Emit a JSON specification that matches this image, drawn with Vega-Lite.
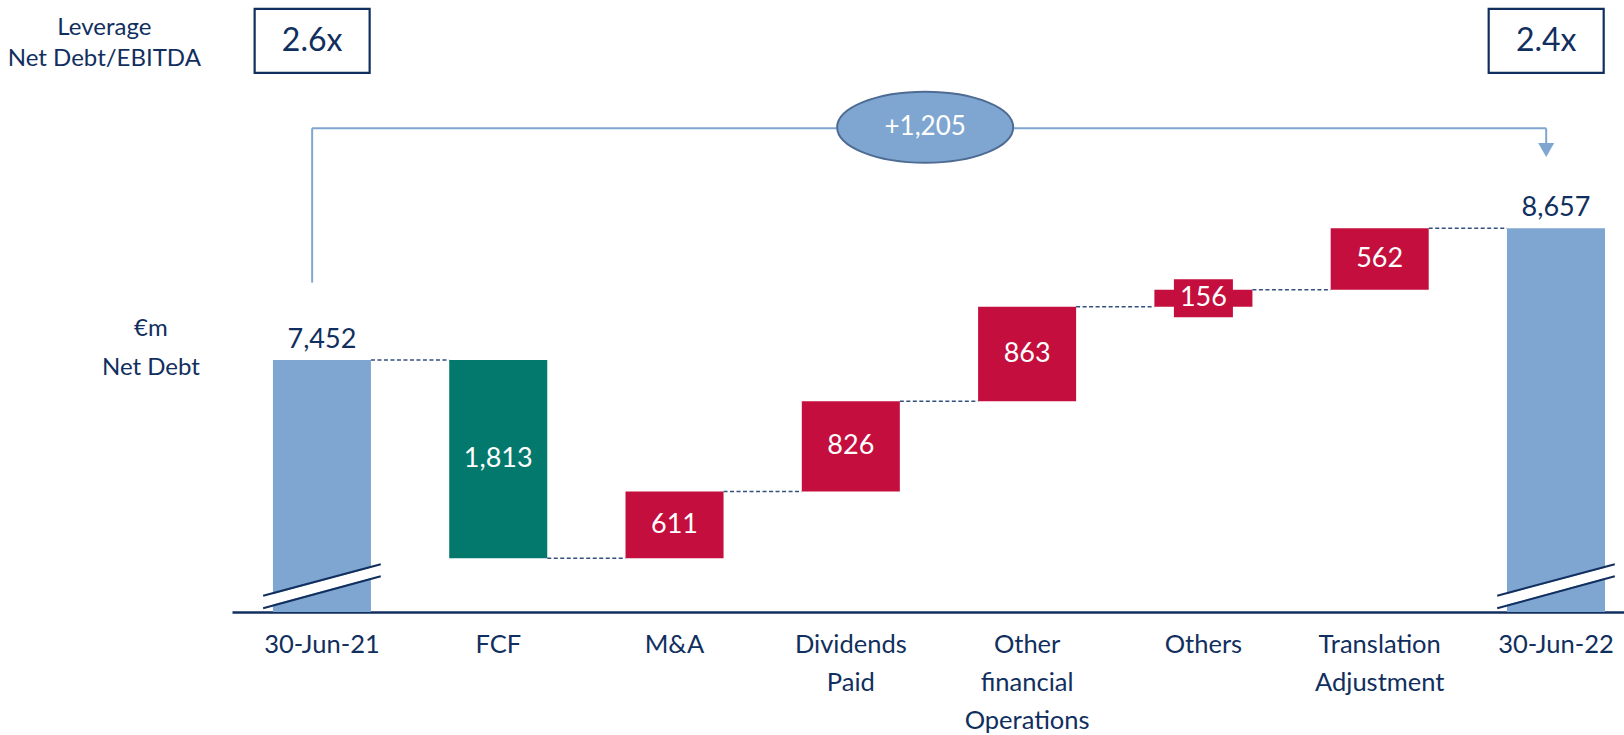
{
  "$schema": "https://vega.github.io/schema/vega-lite/v6.json",
  "width": 1392,
  "height": 612,
  "autosize": "none",
  "padding": {"left": 232, "top": 0, "right": 0, "bottom": 123},
  "background": "white",
  "config": {"view": {"stroke": null}, "text": {"font": "Lato"}},
  "datasets": {
    "steps": [
      {"cat": "30-Jun-21", "kind": "total", "start": null, "end": 7452, "label": "7,452"},
      {"cat": "FCF", "kind": "decrease", "start": 7452, "end": 5639, "label": "1,813"},
      {"cat": "M&A", "kind": "increase", "start": 5639, "end": 6250, "label": "611"},
      {"cat": "Dividends|Paid", "kind": "increase", "start": 6250, "end": 7076, "label": "826"},
      {"cat": "Other|financial|Operations", "kind": "increase", "start": 7076, "end": 7939, "label": "863"},
      {"cat": "Others", "kind": "increase", "start": 7939, "end": 8095, "label": "156"},
      {"cat": "Translation|Adjustment", "kind": "increase", "start": 8095, "end": 8657, "label": "562"},
      {"cat": "30-Jun-22", "kind": "total", "start": null, "end": 8657, "label": "8,657"}
    ],
    "connectors": [
      {"from": "30-Jun-21", "to": "FCF", "level": 7452},
      {"from": "FCF", "to": "M&A", "level": 5639},
      {"from": "M&A", "to": "Dividends|Paid", "level": 6250},
      {"from": "Dividends|Paid", "to": "Other|financial|Operations", "level": 7076},
      {"from": "Other|financial|Operations", "to": "Others", "level": 7939},
      {"from": "Others", "to": "Translation|Adjustment", "level": 8095},
      {"from": "Translation|Adjustment", "to": "30-Jun-22", "level": 8657}
    ],
    "leverage": [
      {"cat": "30-Jun-21", "ratio": "2.6x"},
      {"cat": "30-Jun-22", "ratio": "2.4x"}
    ],
    "change": [
      {"from": "30-Jun-21", "to": "30-Jun-22", "change": "+1,205"}
    ],
    "notes": [
      {"note": "Leverage", "group": "lev1"},
      {"note": "Net Debt/EBITDA", "group": "lev2"},
      {"note": "€m", "group": "nd1"},
      {"note": "Net Debt", "group": "nd2"}
    ]
  },
  "layer": [
    {
      "data": {"name": "steps"},
      "transform": [{"filter": "datum.kind == 'total'"}],
      "mark": {"type": "bar", "color": "#7FA6D0"},
      "encoding": {
        "x": {"field": "cat", "type": "nominal", "title": null,
              "scale": {"type": "band", "domain": ["30-Jun-21", "FCF", "M&A", "Dividends|Paid", "Other|financial|Operations", "Others", "Translation|Adjustment", "30-Jun-22"], "paddingInner": 0.444, "paddingOuter": 0.17, "align": 0.683},
              "axis": {"title": null, "labelExpr": "split(datum.label, '|')", "labelFont": "Lato", "labelFontSize": 25.5, "labelColor": "#112F5E", "labelLineHeight": 38, "labelPadding": 20, "labelAngle": 0, "labelBaseline": "top", "labelOverlap": false, "labelLimit": 300, "ticks": false, "grid": false, "domain": true, "labels": true, "domainColor": "#112F5E", "domainWidth": 2.5}},
        "y": {"field": "end", "type": "quantitative", "axis": null, "scale": {"domain": [5148.5, 10743], "zero": false, "nice": false}},
        "y2": {"datum": 5148.5}
      }
    },
    {
      "data": {"name": "change"},
      "mark": {"type": "rule", "color": "#7FA6D0", "strokeWidth": 2},
      "encoding": {
        "x": {"field": "from", "type": "nominal", "bandPosition": 0.4, "title": null,
              "scale": {"type": "band", "domain": ["30-Jun-21", "FCF", "M&A", "Dividends|Paid", "Other|financial|Operations", "Others", "Translation|Adjustment", "30-Jun-22"], "paddingInner": 0.444, "paddingOuter": 0.17, "align": 0.683}},
        "y": {"datum": 8160, "type": "quantitative", "axis": null, "scale": {"domain": [5148.5, 10743], "zero": false, "nice": false}},
        "y2": {"datum": 9570}
      }
    },
    {
      "data": {"name": "change"},
      "mark": {"type": "rule", "color": "#7FA6D0", "strokeWidth": 2},
      "encoding": {
        "x": {"field": "from", "type": "nominal", "bandPosition": 0.4, "title": null,
              "scale": {"type": "band", "domain": ["30-Jun-21", "FCF", "M&A", "Dividends|Paid", "Other|financial|Operations", "Others", "Translation|Adjustment", "30-Jun-22"], "paddingInner": 0.444, "paddingOuter": 0.17, "align": 0.683}},
        "x2": {"field": "to", "bandPosition": 0.4},
        "y": {"datum": 9570, "type": "quantitative", "axis": null, "scale": {"domain": [5148.5, 10743], "zero": false, "nice": false}}
      }
    },
    {
      "data": {"name": "change"},
      "mark": {"type": "rule", "color": "#7FA6D0", "strokeWidth": 2},
      "encoding": {
        "x": {"field": "to", "type": "nominal", "bandPosition": 0.4, "title": null,
              "scale": {"type": "band", "domain": ["30-Jun-21", "FCF", "M&A", "Dividends|Paid", "Other|financial|Operations", "Others", "Translation|Adjustment", "30-Jun-22"], "paddingInner": 0.444, "paddingOuter": 0.17, "align": 0.683}},
        "y": {"datum": 9570, "type": "quantitative", "axis": null, "scale": {"domain": [5148.5, 10743], "zero": false, "nice": false}},
        "y2": {"datum": 9430}
      }
    },
    {
      "data": {"name": "change"},
      "mark": {"type": "point", "shape": "M-1,-0.875 L1,-0.875 L0,0.875 Z", "size": 256, "filled": true, "fill": "#7FA6D0", "stroke": null, "opacity": 1},
      "encoding": {
        "x": {"field": "to", "type": "nominal", "bandPosition": 0.4, "title": null,
              "scale": {"type": "band", "domain": ["30-Jun-21", "FCF", "M&A", "Dividends|Paid", "Other|financial|Operations", "Others", "Translation|Adjustment", "30-Jun-22"], "paddingInner": 0.444, "paddingOuter": 0.17, "align": 0.683}},
        "y": {"datum": 9372, "type": "quantitative", "axis": null, "scale": {"domain": [5148.5, 10743], "zero": false, "nice": false}}
      }
    },
    {
      "data": {"name": "change"},
      "mark": {"type": "point", "shape": "M-1,0 A1,0.4034 0 1,1 1,0 A1,0.4034 0 1,1 -1,0 Z", "size": 30976, "filled": true, "fill": "#7FA6D0", "stroke": "#4E6C93", "strokeWidth": 2, "opacity": 1},
      "encoding": {
        "x": {"datum": "Other|financial|Operations", "type": "nominal", "bandPosition": -0.54, "title": null,
              "scale": {"type": "band", "domain": ["30-Jun-21", "FCF", "M&A", "Dividends|Paid", "Other|financial|Operations", "Others", "Translation|Adjustment", "30-Jun-22"], "paddingInner": 0.444, "paddingOuter": 0.17, "align": 0.683}},
        "y": {"datum": 9580, "type": "quantitative", "axis": null, "scale": {"domain": [5148.5, 10743], "zero": false, "nice": false}}
      }
    },
    {
      "data": {"name": "change"},
      "mark": {"type": "text", "font": "Lato", "fontSize": 26, "color": "white", "align": "center", "baseline": "middle"},
      "encoding": {
        "x": {"datum": "Other|financial|Operations", "type": "nominal", "bandPosition": -0.54, "title": null,
              "scale": {"type": "band", "domain": ["30-Jun-21", "FCF", "M&A", "Dividends|Paid", "Other|financial|Operations", "Others", "Translation|Adjustment", "30-Jun-22"], "paddingInner": 0.444, "paddingOuter": 0.17, "align": 0.683}},
        "y": {"datum": 9580, "type": "quantitative", "axis": null, "scale": {"domain": [5148.5, 10743], "zero": false, "nice": false}},
        "text": {"field": "change", "type": "nominal"}
      }
    },
    {
      "data": {"name": "leverage"},
      "mark": {"type": "point", "shape": "M-1,-0.557 L1,-0.557 L1,0.557 L-1,0.557 Z", "size": 13225, "filled": false, "stroke": "#112F5E", "strokeWidth": 2.2, "opacity": 1},
      "encoding": {
        "x": {"field": "cat", "type": "nominal", "bandPosition": 0.4, "title": null,
              "scale": {"type": "band", "domain": ["30-Jun-21", "FCF", "M&A", "Dividends|Paid", "Other|financial|Operations", "Others", "Translation|Adjustment", "30-Jun-22"], "paddingInner": 0.444, "paddingOuter": 0.17, "align": 0.683}},
        "y": {"datum": 10369, "type": "quantitative", "axis": null, "scale": {"domain": [5148.5, 10743], "zero": false, "nice": false}}
      }
    },
    {
      "data": {"name": "leverage"},
      "mark": {"type": "text", "font": "Lato", "fontSize": 32, "color": "#112F5E", "align": "center", "baseline": "middle"},
      "encoding": {
        "x": {"field": "cat", "type": "nominal", "bandPosition": 0.4, "title": null,
              "scale": {"type": "band", "domain": ["30-Jun-21", "FCF", "M&A", "Dividends|Paid", "Other|financial|Operations", "Others", "Translation|Adjustment", "30-Jun-22"], "paddingInner": 0.444, "paddingOuter": 0.17, "align": 0.683}},
        "y": {"datum": 10369, "type": "quantitative", "axis": null, "scale": {"domain": [5148.5, 10743], "zero": false, "nice": false}},
        "text": {"field": "ratio", "type": "nominal"}
      }
    },
    {
      "data": {"name": "notes"},
      "transform": [{"filter": "datum.group == 'lev1'"}],
      "mark": {"type": "text", "font": "Lato", "fontSize": 24, "color": "#112F5E", "align": "center", "baseline": "middle"},
      "encoding": {
        "x": {"datum": "30-Jun-21", "type": "nominal", "bandPosition": -1.72, "title": null,
              "scale": {"type": "band", "domain": ["30-Jun-21", "FCF", "M&A", "Dividends|Paid", "Other|financial|Operations", "Others", "Translation|Adjustment", "30-Jun-22"], "paddingInner": 0.444, "paddingOuter": 0.17, "align": 0.683}},
        "y": {"datum": 10487, "type": "quantitative", "axis": null, "scale": {"domain": [5148.5, 10743], "zero": false, "nice": false}},
        "text": {"field": "note", "type": "nominal"}
      }
    },
    {
      "data": {"name": "notes"},
      "transform": [{"filter": "datum.group == 'lev2'"}],
      "mark": {"type": "text", "font": "Lato", "fontSize": 24, "color": "#112F5E", "align": "center", "baseline": "middle"},
      "encoding": {
        "x": {"datum": "30-Jun-21", "type": "nominal", "bandPosition": -1.72, "title": null,
              "scale": {"type": "band", "domain": ["30-Jun-21", "FCF", "M&A", "Dividends|Paid", "Other|financial|Operations", "Others", "Translation|Adjustment", "30-Jun-22"], "paddingInner": 0.444, "paddingOuter": 0.17, "align": 0.683}},
        "y": {"datum": 10203, "type": "quantitative", "axis": null, "scale": {"domain": [5148.5, 10743], "zero": false, "nice": false}},
        "text": {"field": "note", "type": "nominal"}
      }
    },
    {
      "data": {"name": "notes"},
      "transform": [{"filter": "datum.group == 'nd1'"}],
      "mark": {"type": "text", "font": "Lato", "fontSize": 24, "color": "#112F5E", "align": "center", "baseline": "middle"},
      "encoding": {
        "x": {"datum": "30-Jun-21", "type": "nominal", "bandPosition": -1.245, "title": null,
              "scale": {"type": "band", "domain": ["30-Jun-21", "FCF", "M&A", "Dividends|Paid", "Other|financial|Operations", "Others", "Translation|Adjustment", "30-Jun-22"], "paddingInner": 0.444, "paddingOuter": 0.17, "align": 0.683}},
        "y": {"datum": 7735, "type": "quantitative", "axis": null, "scale": {"domain": [5148.5, 10743], "zero": false, "nice": false}},
        "text": {"field": "note", "type": "nominal"}
      }
    },
    {
      "data": {"name": "notes"},
      "transform": [{"filter": "datum.group == 'nd2'"}],
      "mark": {"type": "text", "font": "Lato", "fontSize": 24, "color": "#112F5E", "align": "center", "baseline": "middle"},
      "encoding": {
        "x": {"datum": "30-Jun-21", "type": "nominal", "bandPosition": -1.245, "title": null,
              "scale": {"type": "band", "domain": ["30-Jun-21", "FCF", "M&A", "Dividends|Paid", "Other|financial|Operations", "Others", "Translation|Adjustment", "30-Jun-22"], "paddingInner": 0.444, "paddingOuter": 0.17, "align": 0.683}},
        "y": {"datum": 7379, "type": "quantitative", "axis": null, "scale": {"domain": [5148.5, 10743], "zero": false, "nice": false}},
        "text": {"field": "note", "type": "nominal"}
      }
    },
    {
      "data": {"name": "steps"},
      "transform": [{"filter": "datum.kind == 'total'"}],
      "mark": {"type": "rule", "color": "white", "strokeWidth": 10},
      "encoding": {
        "x": {"field": "cat", "type": "nominal", "bandPosition": -0.1, "title": null,
              "scale": {"type": "band", "domain": ["30-Jun-21", "FCF", "M&A", "Dividends|Paid", "Other|financial|Operations", "Others", "Translation|Adjustment", "30-Jun-22"], "paddingInner": 0.444, "paddingOuter": 0.17, "align": 0.683}},
        "x2": {"field": "cat", "bandPosition": 1.1},
        "y": {"datum": 5240, "type": "quantitative", "axis": null, "scale": {"domain": [5148.5, 10743], "zero": false, "nice": false}},
        "y2": {"datum": 5530}
      }
    },
    {
      "data": {"name": "steps"},
      "transform": [{"filter": "datum.kind == 'total'"}],
      "mark": {"type": "rule", "color": "#112F5E", "strokeWidth": 2},
      "encoding": {
        "x": {"field": "cat", "type": "nominal", "bandPosition": -0.1, "title": null,
              "scale": {"type": "band", "domain": ["30-Jun-21", "FCF", "M&A", "Dividends|Paid", "Other|financial|Operations", "Others", "Translation|Adjustment", "30-Jun-22"], "paddingInner": 0.444, "paddingOuter": 0.17, "align": 0.683}},
        "x2": {"field": "cat", "bandPosition": 1.1},
        "y": {"datum": 5182, "type": "quantitative", "axis": null, "scale": {"domain": [5148.5, 10743], "zero": false, "nice": false}},
        "y2": {"datum": 5475}
      }
    },
    {
      "data": {"name": "steps"},
      "transform": [{"filter": "datum.kind == 'total'"}],
      "mark": {"type": "rule", "color": "#112F5E", "strokeWidth": 2},
      "encoding": {
        "x": {"field": "cat", "type": "nominal", "bandPosition": -0.1, "title": null,
              "scale": {"type": "band", "domain": ["30-Jun-21", "FCF", "M&A", "Dividends|Paid", "Other|financial|Operations", "Others", "Translation|Adjustment", "30-Jun-22"], "paddingInner": 0.444, "paddingOuter": 0.17, "align": 0.683}},
        "x2": {"field": "cat", "bandPosition": 1.1},
        "y": {"datum": 5297, "type": "quantitative", "axis": null, "scale": {"domain": [5148.5, 10743], "zero": false, "nice": false}},
        "y2": {"datum": 5585}
      }
    },
    {
      "data": {"name": "steps"},
      "transform": [{"filter": "datum.kind != 'total'"}],
      "mark": {"type": "bar"},
      "encoding": {
        "x": {"field": "cat", "type": "nominal", "title": null,
              "scale": {"type": "band", "domain": ["30-Jun-21", "FCF", "M&A", "Dividends|Paid", "Other|financial|Operations", "Others", "Translation|Adjustment", "30-Jun-22"], "paddingInner": 0.444, "paddingOuter": 0.17, "align": 0.683}},
        "y": {"field": "start", "type": "quantitative", "axis": null, "scale": {"domain": [5148.5, 10743], "zero": false, "nice": false}},
        "y2": {"field": "end"},
        "color": {"field": "kind", "type": "nominal", "legend": null, "scale": {"domain": ["decrease", "increase"], "range": ["#03786D", "#C40E3D"]}}
      }
    },
    {
      "data": {"name": "steps"},
      "transform": [{"filter": "datum.kind != 'total' && abs(datum.end - datum.start) < 300"}, {"calculate": "(datum.start + datum.end) / 2", "as": "mid"}],
      "mark": {"type": "point", "shape": "M-1,-0.644 L1,-0.644 L1,0.644 L-1,0.644 Z", "size": 3481, "filled": true, "fill": "#C40E3D", "stroke": null, "opacity": 1},
      "encoding": {
        "x": {"field": "cat", "type": "nominal", "title": null,
              "scale": {"type": "band", "domain": ["30-Jun-21", "FCF", "M&A", "Dividends|Paid", "Other|financial|Operations", "Others", "Translation|Adjustment", "30-Jun-22"], "paddingInner": 0.444, "paddingOuter": 0.17, "align": 0.683}},
        "y": {"field": "mid", "type": "quantitative", "axis": null, "scale": {"domain": [5148.5, 10743], "zero": false, "nice": false}}
      }
    },
    {
      "data": {"name": "connectors"},
      "mark": {"type": "rule", "color": "#34507E", "strokeWidth": 1.5, "strokeDash": [4, 2.5]},
      "encoding": {
        "x": {"field": "from", "type": "nominal", "bandPosition": 1, "title": null,
              "scale": {"type": "band", "domain": ["30-Jun-21", "FCF", "M&A", "Dividends|Paid", "Other|financial|Operations", "Others", "Translation|Adjustment", "30-Jun-22"], "paddingInner": 0.444, "paddingOuter": 0.17, "align": 0.683}},
        "x2": {"field": "to", "bandPosition": 0},
        "y": {"field": "level", "type": "quantitative", "axis": null, "scale": {"domain": [5148.5, 10743], "zero": false, "nice": false}}
      }
    },
    {
      "data": {"name": "steps"},
      "transform": [{"filter": "datum.kind == 'total'"}],
      "mark": {"type": "text", "font": "Lato", "fontSize": 27, "color": "#112F5E", "align": "center", "baseline": "bottom", "dy": -6},
      "encoding": {
        "x": {"field": "cat", "type": "nominal", "title": null,
              "scale": {"type": "band", "domain": ["30-Jun-21", "FCF", "M&A", "Dividends|Paid", "Other|financial|Operations", "Others", "Translation|Adjustment", "30-Jun-22"], "paddingInner": 0.444, "paddingOuter": 0.17, "align": 0.683}},
        "y": {"field": "end", "type": "quantitative", "axis": null, "scale": {"domain": [5148.5, 10743], "zero": false, "nice": false}},
        "text": {"field": "label", "type": "nominal"}
      }
    },
    {
      "data": {"name": "steps"},
      "transform": [{"filter": "datum.kind != 'total'"}, {"calculate": "(datum.start + datum.end) / 2", "as": "mid"}],
      "mark": {"type": "text", "font": "Lato", "fontSize": 27, "color": "white", "align": "center", "baseline": "middle"},
      "encoding": {
        "x": {"field": "cat", "type": "nominal", "title": null,
              "scale": {"type": "band", "domain": ["30-Jun-21", "FCF", "M&A", "Dividends|Paid", "Other|financial|Operations", "Others", "Translation|Adjustment", "30-Jun-22"], "paddingInner": 0.444, "paddingOuter": 0.17, "align": 0.683}},
        "y": {"field": "mid", "type": "quantitative", "axis": null, "scale": {"domain": [5148.5, 10743], "zero": false, "nice": false}},
        "text": {"field": "label", "type": "nominal"}
      }
    }
  ]
}
